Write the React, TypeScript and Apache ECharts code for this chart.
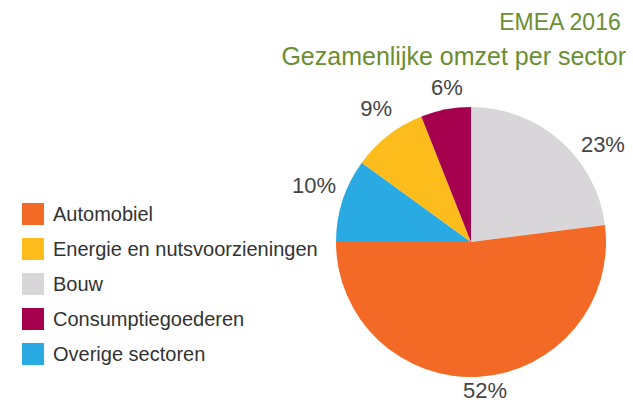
import React, { useEffect, useRef } from "react";
import * as echarts from "echarts";

const titleLine1 = "EMEA 2016";
const titleLine2 = "Gezamenlijke omzet per sector";

// Slice order clockwise from 12 o'clock
const sliceNames = ["Bouw", "Automobiel", "Overige sectoren", "Energie en nutsvoorzieningen", "Consumptiegoederen"];
const sliceValues = [23, 52, 10, 9, 6];
const sliceColors = ["#d9d6d9", "#f26a25", "#2aaae2", "#fcbd1c", "#a4004e"];
const labelOffsets: [number, number][] = [[9, 11], [-22, 4], [8, -12], [15, -19], [24, -12]];

const legendOrder = ["Automobiel", "Energie en nutsvoorzieningen", "Bouw", "Consumptiegoederen", "Overige sectoren"];

const FONT = "'Liberation Sans', Arial, Helvetica, sans-serif";

export default function App() {
  const ref = useRef<HTMLDivElement>(null);
  useEffect(() => {
    if (!ref.current) return;
    const chart = echarts.init(ref.current, undefined, { renderer: "svg" });
    chart.setOption({
      animation: false,
      backgroundColor: "#ffffff",
      title: [
        {
          text: titleLine1,
          right: 6,
          top: 5,
          textStyle: { color: "#6b8e2f", fontSize: 23, fontWeight: "normal", fontFamily: FONT },
        },
        {
          text: titleLine2,
          right: 2,
          top: 38,
          textStyle: { color: "#6b8e2f", fontSize: 25, fontWeight: "normal", fontFamily: FONT },
        },
      ],
      legend: {
        data: legendOrder,
        orient: "vertical",
        left: 17,
        top: 198,
        itemWidth: 22,
        itemHeight: 22,
        itemGap: 13,
        icon: "rect",
        selectedMode: false,
        textStyle: { color: "#333333", fontSize: 20, fontFamily: FONT, padding: [0, 0, 0, 4] },
      },
      series: [
        {
          type: "pie",
          center: [471, 242],
          radius: 135,
          startAngle: 90,
          clockwise: true,
          avoidLabelOverlap: false,
          data: sliceNames.map((n, i) => ({
            name: n,
            value: sliceValues[i],
            itemStyle: { color: sliceColors[i] },
            label: { offset: labelOffsets[i] },
          })),
          label: {
            show: true,
            position: "outside",
            formatter: "{c}%",
            color: "#444444",
            fontSize: 22,
            fontFamily: FONT,
            distanceToLabelLine: 5,
          },
          labelLine: { show: false, length: 10, length2: 0 },
          emphasis: { disabled: true },
        },
      ],
    });
    return () => chart.dispose();
  }, []);
  return <div ref={ref} style={{ position: "fixed", left: 0, top: 0, width: 633, height: 403 }} />;
}
